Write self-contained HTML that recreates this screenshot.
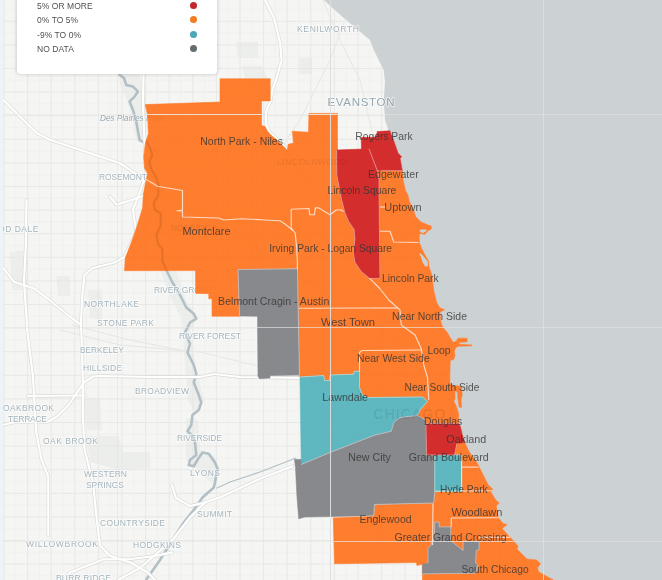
<!DOCTYPE html>
<html lang="en"><head><meta charset="utf-8"><title>Chicago change map</title>
<style>
html,body{margin:0;padding:0;background:#f5f5f3;}
body{width:662px;height:580px;overflow:hidden;position:relative;font-family:"Liberation Sans",Arial,sans-serif;}
#map{position:absolute;left:0;top:0;width:662px;height:580px;display:block}
.lbl{font-family:"Liberation Sans",Arial,sans-serif;font-size:11px;fill:#333;fill-opacity:.8}
.bl{font-family:"Liberation Sans",Arial,sans-serif;fill:#a4b4bc;stroke:#fff;stroke-opacity:.6;stroke-width:1.8px;paint-order:stroke;stroke-linejoin:round}
#legend{position:absolute;left:17px;top:-30px;width:200px;height:103.5px;background:#fff;border-radius:4px;box-shadow:0 0 4px rgba(0,0,0,.2)}
#legend ul{list-style:none;margin:0;padding:0;position:absolute;left:20px;top:28.7px;width:170px}
#legend li{position:absolute;left:0;height:14.4px;line-height:14.4px;font-size:8.5px;color:#505050;white-space:nowrap;letter-spacing:0.05px;width:170px}
#legend li i{position:absolute;left:153px;top:3.2px;width:7px;height:7px;border-radius:50%}
#strip{position:absolute;left:0;top:0;width:3px;height:580px;background:#edf3f7}
</style></head><body>
<svg id="map" width="662" height="580" viewBox="0 0 662 580">
<rect width="662" height="580" fill="#ccd1d4"/>

<polygon points="0,0 323.75,0 337.5,12.5 355,27.5 370,40 373.75,50 383.75,70 385,82.5 383.75,100 385,120 388.75,131.25 389.8,130.8 394,141.6 398.1,153.2 401.6,156.8 400.1,158.5 402.3,170.7 403.1,179.8 405.4,190.5 407.9,195 409,200.2 411.4,206 413.6,210.5 415.7,216.7 420.9,221.9 428.1,225 431.2,226 431.2,229.1 428.1,230.7 425,234.3 420.9,233.6 419.3,234.8 419.3,242 420.9,246.7 424.1,253.4 428.4,260.7 429,266.7 432,275.2 433.8,290.9 436.8,302.9 439.8,307.8 444.7,309.8 439.9,312.2 441.1,323.1 442.9,327.3 446.6,331.6 450.2,337.6 453.2,342.4 456.2,341.2 458,338.2 467.1,338.2 467.1,341.8 459,342.6 459,344.3 472,345 472,345.8 458.6,346.2 456.2,347.2 454.4,350.9 455,355.7 453.8,359.3 450.2,360.5 449.9,375 449.9,383 452.6,385.5 458.6,386.1 461.6,387.3 462.2,395.2 461,400 461.6,407.2 459.2,407.2 458,400 457.4,392.8 455,389.5 455,398.8 453.8,401.2 456.2,406 458.6,413.3 458.6,423.5 460.4,426.6 462.3,434.8 464.7,442.6 469.3,451.9 477,462.8 481.7,472 487.9,484.5 492.6,489 491,492.2 495.7,500 499.3,503 496.3,505.9 498.3,517.7 503.2,523.6 507.1,524.6 502.2,528.5 509.1,536.3 514,541.3 518,546.2 517,549.1 526.8,558.9 536.6,559.9 540.5,563.8 537.6,567.8 538.6,571.7 553.3,580 0,580" fill="#f5f5f3" />
<clipPath id="landclip"><polygon points="0,0 323.75,0 337.5,12.5 355,27.5 370,40 373.75,50 383.75,70 385,82.5 383.75,100 385,120 388.75,131.25 389.8,130.8 394,141.6 398.1,153.2 401.6,156.8 400.1,158.5 402.3,170.7 403.1,179.8 405.4,190.5 407.9,195 409,200.2 411.4,206 413.6,210.5 415.7,216.7 420.9,221.9 428.1,225 431.2,226 431.2,229.1 428.1,230.7 425,234.3 420.9,233.6 419.3,234.8 419.3,242 420.9,246.7 424.1,253.4 428.4,260.7 429,266.7 432,275.2 433.8,290.9 436.8,302.9 439.8,307.8 444.7,309.8 439.9,312.2 441.1,323.1 442.9,327.3 446.6,331.6 450.2,337.6 453.2,342.4 456.2,341.2 458,338.2 467.1,338.2 467.1,341.8 459,342.6 459,344.3 472,345 472,345.8 458.6,346.2 456.2,347.2 454.4,350.9 455,355.7 453.8,359.3 450.2,360.5 449.9,375 449.9,383 452.6,385.5 458.6,386.1 461.6,387.3 462.2,395.2 461,400 461.6,407.2 459.2,407.2 458,400 457.4,392.8 455,389.5 455,398.8 453.8,401.2 456.2,406 458.6,413.3 458.6,423.5 460.4,426.6 462.3,434.8 464.7,442.6 469.3,451.9 477,462.8 481.7,472 487.9,484.5 492.6,489 491,492.2 495.7,500 499.3,503 496.3,505.9 498.3,517.7 503.2,523.6 507.1,524.6 502.2,528.5 509.1,536.3 514,541.3 518,546.2 517,549.1 526.8,558.9 536.6,559.9 540.5,563.8 537.6,567.8 538.6,571.7 553.3,580 0,580"/></clipPath>
<g clip-path="url(#landclip)">
<g id="base" fill="none" stroke-linecap="round" stroke-linejoin="round">
<g fill="#eceeec" stroke="none">
<polygon points="118,74 140,74 143,100 141,120 145,142 137,142 132,118 127,100 121,88"/>
<polygon points="160,270 176,270 186,300 198,318 190,330 196,368 204,400 196,414 188,400 184,350 182,320 170,296"/>
<polygon points="186,418 198,420 200,450 214,456 220,470 216,486 208,480 196,468 186,460"/>
<polygon points="84,398 100,398 102,430 86,430"/>
<polygon points="86,436 118,436 124,452 150,452 150,468 120,470 90,462"/>
<polygon points="10,252 26,250 28,290 12,290"/>
<polygon points="56,276 70,276 70,296 58,296"/>
<polygon points="88,290 102,290 102,320 90,318"/>
<polygon points="236,42 258,42 258,58 238,58"/>
<polygon points="298,58 312,58 312,74 298,74"/>
<polygon points="242,66 262,66 268,80 246,84"/>
</g>
<path d="M15.8,0V580M39.4,0V580M63.0,0V580M86.6,0V580M110.2,0V580M133.8,0V580M157.4,0V580M181.0,0V580M204.6,0V580M228.2,0V580M251.8,0V580M275.4,0V580M299.0,0V580M322.6,0V580M346.2,0V580M369.8,0V580M393.4,0V580M417.0,0V580M440.6,0V580M464.2,0V580M487.8,0V580M511.4,0V580M535.0,0V580M558.6,0V580M3,9.5H560M3,33.1H560M3,56.7H560M3,80.3H560M3,103.9H560M3,127.5H560M3,151.1H560M3,174.7H560M3,198.3H560M3,221.9H560M3,245.5H560M3,269.1H560M3,292.7H560M3,316.3H560M3,339.9H560M3,363.5H560M3,387.1H560M3,410.7H560M3,434.3H560M3,457.9H560M3,481.5H560M3,505.1H560M3,528.7H560M3,552.3H560M3,575.9H560" stroke="#efefed" stroke-width="0.7"/>
<path d="M4.0,0V580M27.6,0V580M51.2,0V580M74.8,0V580M98.4,0V580M122.0,0V580M145.6,0V580M169.2,0V580M192.8,0V580M216.4,0V580M240.0,0V580M263.6,0V580M287.2,0V580M310.8,0V580M334.4,0V580M358.0,0V580M381.6,0V580M405.2,0V580M428.8,0V580M452.4,0V580M476.0,0V580M499.6,0V580M523.2,0V580M546.8,0V580M3,21.3H560M3,44.9H560M3,68.5H560M3,92.1H560M3,115.7H560M3,139.3H560M3,162.9H560M3,186.5H560M3,210.1H560M3,233.7H560M3,257.3H560M3,280.9H560M3,304.5H560M3,328.1H560M3,351.7H560M3,375.3H560M3,398.9H560M3,422.5H560M3,446.1H560M3,469.7H560M3,493.3H560M3,516.9H560M3,540.5H560M3,564.1H560" stroke="#e7e7e5" stroke-width="0.9"/>
<polyline points="146,183 200,215 260,250 330,295 400,340 440,352" stroke="#e6e6e4" stroke-width="1"/>
<polyline points="262,125 300,170 330,210 380,280" stroke="#e6e6e4" stroke-width="1"/>
<polyline points="60,330 120,345 200,352 300,376" stroke="#e6e6e4" stroke-width="1"/>
<polyline points="220,497 300,463 420,410" stroke="#e6e6e4" stroke-width="1"/>
<polyline points="323,0 340,40 360,80 372,131" stroke="#e6e6e4" stroke-width="1"/>
<polyline points="280,150 300,120 330,60 345,20" stroke="#e6e6e4" stroke-width="1"/>
<polyline points="72,325 130,340 180,350" stroke="#e6e6e4" stroke-width="1"/>
<polyline points="119.6,75 124,78 126.3,85 133,86.6 138,91.6 134.6,96.6 129.6,101.5 133,110 136.3,121.5 138,131.5 139.6,139.8 144.6,143 146.8,141.6 150.7,149.3 152.2,155.5 149.2,161.7 151.5,169.5 155.4,175.7 158.5,185.3 158.1,195.7 153.8,202.6 154.7,209.5 160.7,213.8 160.7,225 156.4,235.3 158.1,244 162.4,249.1 162.4,261.2 166.7,270.7 172.5,282.5 180,295 186.25,307.5 193.75,313.75 196.25,318.75 190,322.5 185,332.5 190,343.75 187.5,352.5 193.75,365 196.25,373.75 193.75,382.5 198.75,395 201.25,402.5 198.75,410 192.5,415 191.25,425 187.5,431.25 193,436 195,442.5 196.25,455 190,460 188.75,465 193.75,466.25 198,459 202.5,452.5 208.75,453.75 215,462.5 217.5,468.75 216,476 215,482.5 213.75,487.5 202.5,497.5 193.75,510 183.75,522.5 172.5,540 160,560 146,580" stroke="#b2c0c6" stroke-width="2.6"/>
<polyline points="217,488 230,482 260,472 296,458" stroke="#b2c0c6" stroke-width="1.2"/>
<polyline points="3.3,99.9 19.9,116.5 36.6,133.1 49.8,139.8 99.7,156.4 119.6,163 139.6,176.3 146.2,183 160,188" stroke="#d9d9d7" stroke-width="3.4"/>
<polyline points="143.6,60 143.6,75 142.9,103.2 144.6,143 146.2,173 139.6,193 133,209.5 136.3,232.8 131,243.8 124,257.6 113.8,262.8 93,268 84.5,274.8 82,299 81,323 82,350.7 82.8,380 82.8,414.5 84.5,449 93.1,483.4 96.6,517.9 100,545.5 110.3,555.9 131,562.8 148.3,573 155,580" stroke="#d9d9d7" stroke-width="3.4"/>
<polyline points="109.7,196.3 116.3,204.6 133,199.6 143,196" stroke="#d9d9d7" stroke-width="3.4"/>
<polyline points="27.6,396 84.5,395.5" stroke="#d9d9d7" stroke-width="3.4"/>
<polyline points="2.6,425 17,421.7 48.3,421.7 57,416.5 69,404.5 76,394 84.5,382 93,376.5 100,376 150,377 200,377 214,374 240,377 300,378" stroke="#d9d9d7" stroke-width="3.4"/>
<polyline points="34.5,402.4 36.2,431.7 41.4,459.3 48.3,476.6 48.3,535" stroke="#d9d9d7" stroke-width="3.4"/>
<polyline points="3.4,268 13.8,281.7 34.5,288.6 48.3,299 69,316 81,324.8" stroke="#d9d9d7" stroke-width="3.4"/>
<polyline points="26.5,200 25.9,243.8 24,281.7 27.6,333.4 32.8,374.8 34.5,402.4" stroke="#d9d9d7" stroke-width="3.4"/>
<polyline points="69,573 103.4,559.3 131,559 155,556 172.4,552.4" stroke="#d9d9d7" stroke-width="3.4"/>
<polyline points="118,580 140,568 172.5,540 190,517.5 205,502.5 222.5,496.25 260,478.75 292.5,466.25" stroke="#d9d9d7" stroke-width="3.4"/>
<polyline points="172,485 176,498 190,506 205,502.5" stroke="#d9d9d7" stroke-width="3.4"/>
<polyline points="265,0 274,18 280,42.3 281.6,60.4 276,80 272.3,90 270.5,102 266.9,109.3 265.7,116.5 266.3,125 270.5,133.4 277.8,139.5 285,146.7" stroke="#d9d9d7" stroke-width="3.4"/>
<polyline points="3.3,99.9 19.9,116.5 36.6,133.1 49.8,139.8 99.7,156.4 119.6,163 139.6,176.3 146.2,183 160,188" stroke="#ffffff" stroke-width="2.2"/>
<polyline points="143.6,60 143.6,75 142.9,103.2 144.6,143 146.2,173 139.6,193 133,209.5 136.3,232.8 131,243.8 124,257.6 113.8,262.8 93,268 84.5,274.8 82,299 81,323 82,350.7 82.8,380 82.8,414.5 84.5,449 93.1,483.4 96.6,517.9 100,545.5 110.3,555.9 131,562.8 148.3,573 155,580" stroke="#ffffff" stroke-width="2.2"/>
<polyline points="109.7,196.3 116.3,204.6 133,199.6 143,196" stroke="#ffffff" stroke-width="2.2"/>
<polyline points="27.6,396 84.5,395.5" stroke="#ffffff" stroke-width="2.2"/>
<polyline points="2.6,425 17,421.7 48.3,421.7 57,416.5 69,404.5 76,394 84.5,382 93,376.5 100,376 150,377 200,377 214,374 240,377 300,378" stroke="#ffffff" stroke-width="2.2"/>
<polyline points="34.5,402.4 36.2,431.7 41.4,459.3 48.3,476.6 48.3,535" stroke="#ffffff" stroke-width="2.2"/>
<polyline points="3.4,268 13.8,281.7 34.5,288.6 48.3,299 69,316 81,324.8" stroke="#ffffff" stroke-width="2.2"/>
<polyline points="26.5,200 25.9,243.8 24,281.7 27.6,333.4 32.8,374.8 34.5,402.4" stroke="#ffffff" stroke-width="2.2"/>
<polyline points="69,573 103.4,559.3 131,559 155,556 172.4,552.4" stroke="#ffffff" stroke-width="2.2"/>
<polyline points="118,580 140,568 172.5,540 190,517.5 205,502.5 222.5,496.25 260,478.75 292.5,466.25" stroke="#ffffff" stroke-width="2.2"/>
<polyline points="172,485 176,498 190,506 205,502.5" stroke="#ffffff" stroke-width="2.2"/>
<polyline points="265,0 274,18 280,42.3 281.6,60.4 276,80 272.3,90 270.5,102 266.9,109.3 265.7,116.5 266.3,125 270.5,133.4 277.8,139.5 285,146.7" stroke="#ffffff" stroke-width="2.2"/>
</g>
</g>
<g id="baselabels">
<text class="bl" x="297" y="31.5" font-size="8.5" textLength="62" lengthAdjust="spacing">KENILWORTH</text>
<text class="bl" x="327.5" y="105.5" font-size="11.5" textLength="67" lengthAdjust="spacing" style="fill:#93a5ae">EVANSTON</text>
<text class="bl" x="99" y="179.5" font-size="8.5" textLength="48" lengthAdjust="spacing">ROSEMONT</text>
<text class="bl" x="-17.6" y="231.6" font-size="8.5" textLength="56" lengthAdjust="spacing">WOOD DALE</text>
<text class="bl" x="154" y="292.5" font-size="8.5" textLength="58" lengthAdjust="spacing">RIVER GROVE</text>
<text class="bl" x="84" y="306.5" font-size="8.5" textLength="55" lengthAdjust="spacing">NORTHLAKE</text>
<text class="bl" x="97" y="325.5" font-size="8.5" textLength="57" lengthAdjust="spacing">STONE PARK</text>
<text class="bl" x="179" y="338.5" font-size="8.5" textLength="62" lengthAdjust="spacing">RIVER FOREST</text>
<text class="bl" x="80" y="353" font-size="8.5" textLength="44" lengthAdjust="spacing">BERKELEY</text>
<text class="bl" x="83" y="371" font-size="8.5" textLength="39" lengthAdjust="spacing">HILLSIDE</text>
<text class="bl" x="135" y="393.5" font-size="8.5" textLength="54" lengthAdjust="spacing">BROADVIEW</text>
<text class="bl" x="3" y="411" font-size="8.5" textLength="51" lengthAdjust="spacing">OAKBROOK</text>
<text class="bl" x="8" y="422" font-size="8.5" textLength="39" lengthAdjust="spacing">TERRACE</text>
<text class="bl" x="177" y="440.5" font-size="8.5" textLength="45" lengthAdjust="spacing">RIVERSIDE</text>
<text class="bl" x="43" y="444" font-size="8.5" textLength="55" lengthAdjust="spacing">OAK BROOK</text>
<text class="bl" x="84" y="476.5" font-size="8.5" textLength="43" lengthAdjust="spacing">WESTERN</text>
<text class="bl" x="86" y="487.5" font-size="8.5" textLength="38" lengthAdjust="spacing">SPRINGS</text>
<text class="bl" x="190" y="476" font-size="8.5" textLength="30" lengthAdjust="spacing">LYONS</text>
<text class="bl" x="197" y="517" font-size="8.5" textLength="35" lengthAdjust="spacing">SUMMIT</text>
<text class="bl" x="100" y="525.5" font-size="8.5" textLength="65" lengthAdjust="spacing">COUNTRYSIDE</text>
<text class="bl" x="26" y="547" font-size="8.5" textLength="72" lengthAdjust="spacing">WILLOWBROOK</text>
<text class="bl" x="133" y="548" font-size="8.5" textLength="48" lengthAdjust="spacing">HODGKINS</text>
<text class="bl" x="56" y="580.5" font-size="8.5" textLength="55" lengthAdjust="spacing">BURR RIDGE</text>
<text class="bl" x="100" y="120.5" font-size="9.5" font-style="italic" textLength="65" lengthAdjust="spacingAndGlyphs" style="fill:#93a6b0;stroke-width:1px">Des Plaines River</text>
</g>
<g id="choro" stroke-linejoin="round" opacity="0.9">
<polygon points="145.3,104.6 220,102 220,78.75 270.2,78.75 270.2,100.9 261.5,100.9 261.5,125.6 265.1,126.5 266.5,130 270.5,134.7 277.8,140.7 285,147.9 287.3,150.3 288.2,144.3 293.4,143.1 292.4,131.2 308.5,132.2 308.9,113.4 337.5,113.4 337.5,150 336.6,150 336.8,175 341.6,199.8 344.8,212.4 348.7,221.7 354.1,229.5 354.9,238.8 353.3,252.8 354.9,262.1 361.1,271.4 369.6,278.4 380,278.4 379.3,220 379,179.8 377.3,170.7 402.3,170.7 403.1,179.8 405.4,190.5 407.9,195 409,200.2 411.4,206 413.6,210.5 415.7,216.7 420.9,221.9 428.1,225 431.2,226 431.2,229.1 428.1,230.7 425,234.3 420.9,233.6 419.3,234.8 419.3,242 420.9,246.7 424.1,253.4 428.4,260.7 429,266.7 432,275.2 433.8,290.9 436.8,302.9 439.8,307.8 444.7,309.8 439.9,312.2 441.1,323.1 442.9,327.3 446.6,331.6 450.2,337.6 453.2,342.4 456.2,341.2 458,338.2 467.1,338.2 467.1,341.8 459,342.6 459,344.3 472,345 472,345.8 458.6,346.2 456.2,347.2 454.4,350.9 455,355.7 453.8,359.3 450.2,360.5 449.9,375 449.9,383 452.6,385.5 458.6,386.1 461.6,387.3 462.2,395.2 461,400 461.6,407.2 459.2,407.2 458,400 457.4,392.8 455,389.5 455,398.8 453.8,401.2 456.2,406 458.6,413.3 458.6,423.5 425.9,423.5 425.9,420 417.5,415.5 420,410 427.5,401.25 422.5,397 367.5,397.5 362.5,395 359.5,387.5 359.5,371.25 354.25,371.25 353.75,374.25 330,375 329.5,380.5 324.5,380.5 323.75,375.5 300,377 299.5,375 298,300 297.5,268.75 238,269.5 239.5,316.25 212,316.25 212,298.75 208.75,298.75 208.75,293.75 195.8,293.4 195.5,270.6 124.5,270.7 125.3,257.8 131.4,242.2 137.4,225 142.6,207.8 143.4,194 146.2,179.5 147.6,174.1 144.5,167.9 143.7,157.1 145.3,143.1 148.4,133.8 147.6,115.2" fill="#ff7119" stroke="#ff7119" stroke-width="0.6"/>
<polygon points="464.7,442.6 469.3,451.9 477,462.8 481.7,472 487.9,484.5 492.6,489 491,492.2 495.7,500 499.3,503 496.3,505.9 498.3,517.7 503.2,523.6 507.1,524.6 502.2,528.5 509.1,536.3 514,541.3 518,546.2 517,549.1 526.8,558.9 536.6,559.9 540.5,563.8 537.6,567.8 538.6,571.7 553.3,580 422.4,580 422.4,564.2 417,565.5 416.25,562.5 334.5,563.75 333.25,517.5 373.75,515.75 374.5,504.5 433.75,503 434.8,491.5 461.6,491.5 461.6,455 454.6,455 456.9,443.4" fill="#ff7119" stroke="#ff7119" stroke-width="0.6"/>
<polygon points="238,269.5 297.5,268.75 298,300 299.5,375 270,375.5 270,378 259.5,378.75 258,376.25 257.5,316.25 239.5,316" fill="#7d7e83" stroke="#7d7e83" stroke-width="0.6"/>
<polygon points="300,377 323.75,375.5 324.5,380.5 329.5,380.5 330,375 353.75,374.25 354.25,371.25 359.5,371.25 359.5,387.5 362.5,395 367.5,397.5 422.5,397 427.5,401.25 420,410 417.5,415.5 400,417.5 393.75,422.5 391.25,431.25 375,435 330,452.5 301.25,464.5" fill="#4fb1bb" stroke="#4fb1bb" stroke-width="0.6"/>
<polygon points="294.5,459.5 301.25,459.5 301.25,464.5 330,452.5 375,435 391.25,431.25 393.75,422.5 400,417.5 417.5,415.5 425.9,420 425.9,424 426.6,455 434.8,455 434.8,491.5 433.75,503 374.5,504.5 373.75,515.75 305,517 298.75,518.75 297,497.5 295.5,467.5" fill="#7d7e83" stroke="#7d7e83" stroke-width="0.6"/>
<polygon points="434.8,455 461.6,455 461.6,491.5 434.8,491.5" fill="#4fb1bb" stroke="#4fb1bb" stroke-width="0.6"/>
<polygon points="434.85,522.1 439,522.1 439.3,526.9 450.7,526.9 451.1,541 463.1,550.4 463.1,541.4 479,541.4 479,549.7 476.3,550.4 475.6,562.8 477.6,564.9 475.6,573.2 422.4,573.9 422.4,564.2 428,563.5 428,548.3 430.7,545.6 432.1,541.4 434.2,540" fill="#7d7e83" stroke="#7d7e83" stroke-width="0.6"/>
<polygon points="336.6,150 369,148.8 377.3,170.7 379,179.8 379.3,220 380,278.4 369.6,278.4 361.1,271.4 354.9,262.1 353.3,252.8 354.9,238.8 354.1,229.5 348.7,221.7 344.8,212.4 341.6,199.8 336.8,175" fill="#d01918" stroke="#d01918" stroke-width="0.6"/>
<polygon points="361.2,137.5 376,137.2 377.3,131.6 389.8,130.8 394,141.6 398.1,153.2 401.6,156.8 400.1,158.5 402.3,170.7 377.3,170.7 369,148.8 361.5,149" fill="#d01918" stroke="#d01918" stroke-width="0.6"/>
<polygon points="425.9,423.5 458.6,423.5 460.4,426.6 462.3,434.8 464.7,442.6 456.9,443.4 454.6,455 426.6,455" fill="#d01918" stroke="#d01918" stroke-width="0.6"/>
<g fill="none" stroke="#fff" stroke-opacity=".72" stroke-width="1.15">
<polyline points="146.25,179.5 157.5,186.25 182.5,190.5 182.5,210 177,210.75 182.5,211 182.5,217 218.75,218 223.75,220 241.25,218.75 265,220 280,220.75 285,224 292.8,230.3 295.1,232.6 296.6,246.6 297.4,262 297.4,268.75"/>
<polyline points="292.8,230.3 291.2,228 291.2,209.3 309,208.5 309.8,214.7 314.5,214.7 315.3,207.8 318.4,207.8 330,214.7 336.2,210 341.7,210 343.5,211.6"/>
<polyline points="380,207 386,207"/>
<polyline points="380,231.25 390,231.25 393.75,242 418.75,242.5"/>
<polyline points="369.6,278.4 380,288.75 388.75,300 400,310 401.25,325 415,335 421.25,348.75 423.75,365 427.5,377.5 428.75,400"/>
<polyline points="370,308 397.5,308"/>
<polyline points="298.75,308.25 370,308"/>
<polyline points="359.5,371.25 359.5,352.5 362,350.5 421.5,350"/>
<polyline points="433,503.75 432.5,545"/>
<polyline points="461.6,467.1 478.6,467.1"/>
<polyline points="435.2,491.2 492,490.7"/>
<polyline points="451.25,518 498.3,517.7"/>
<polyline points="451.25,518 451.25,527"/>
<polyline points="479,537.3 510,537.3"/>
<polyline points="461.6,455 461.6,491"/>
</g>
<g fill="none" stroke="#fff" stroke-opacity=".4" stroke-width="1">
<polyline points="369,148.8 377.3,170.7"/>
<polyline points="301.25,464.5 330,452.5 375,435 391.25,431.25 393.75,422.5 400,417.5 417.5,415.5"/>
<polyline points="434.8,455 434.8,491.5"/>
<polyline points="336.6,150 336.8,175 341.6,199.8 344.8,212.4 348.7,221.7 354.1,229.5 354.9,238.8 353.3,252.8 354.9,262.1 361.1,271.4 369.6,278.4 380,278.4 379.3,220 379,179.8 377.3,170.7 402.3,170.7"/>
<polyline points="425.9,423.5 458.6,423.5"/>
<polyline points="425.9,423.5 426.6,455 461.6,455"/>
<polyline points="456.9,443.4 454.6,455"/>
<polyline points="238,269.5 297.5,268.75 298,300 299.5,375"/>
<polyline points="239.5,316 238,269.5"/>
<polyline points="300,377 323.75,375.5 324.5,380.5 329.5,380.5 330,375 353.75,374.25 354.25,371.25 359.5,371.25 359.5,387.5 362.5,395 367.5,397.5 422.5,397 427.5,401.25 420,410 417.5,415.5 425.9,420"/>
<polyline points="333.25,517.5 373.75,515.75 374.5,504.5 433.75,503"/>
<polyline points="434.8,491.5 433.75,503"/>
<polyline points="434.85,522.1 439,522.1 439.3,526.9 450.7,526.9 451.1,541 463.1,550.4 463.1,541.4 479,541.4 479,549.7 476.3,550.4 475.6,562.8 477.6,564.9 475.6,573.2 422.4,573.9"/>
<polyline points="428,563.5 428,548.3 430.7,545.6 432.1,541.4 434.2,540 434.85,522.1"/>
</g>
</g>
<clipPath id="choroclip">
<polygon points="145.3,104.6 220,102 220,78.75 270.2,78.75 270.2,100.9 261.5,100.9 261.5,125.6 265.1,126.5 266.5,130 270.5,134.7 277.8,140.7 285,147.9 287.3,150.3 288.2,144.3 293.4,143.1 292.4,131.2 308.5,132.2 308.9,113.4 337.5,113.4 337.5,150 336.6,150 336.8,175 341.6,199.8 344.8,212.4 348.7,221.7 354.1,229.5 354.9,238.8 353.3,252.8 354.9,262.1 361.1,271.4 369.6,278.4 380,278.4 379.3,220 379,179.8 377.3,170.7 402.3,170.7 403.1,179.8 405.4,190.5 407.9,195 409,200.2 411.4,206 413.6,210.5 415.7,216.7 420.9,221.9 428.1,225 431.2,226 431.2,229.1 428.1,230.7 425,234.3 420.9,233.6 419.3,234.8 419.3,242 420.9,246.7 424.1,253.4 428.4,260.7 429,266.7 432,275.2 433.8,290.9 436.8,302.9 439.8,307.8 444.7,309.8 439.9,312.2 441.1,323.1 442.9,327.3 446.6,331.6 450.2,337.6 453.2,342.4 456.2,341.2 458,338.2 467.1,338.2 467.1,341.8 459,342.6 459,344.3 472,345 472,345.8 458.6,346.2 456.2,347.2 454.4,350.9 455,355.7 453.8,359.3 450.2,360.5 449.9,375 449.9,383 452.6,385.5 458.6,386.1 461.6,387.3 462.2,395.2 461,400 461.6,407.2 459.2,407.2 458,400 457.4,392.8 455,389.5 455,398.8 453.8,401.2 456.2,406 458.6,413.3 458.6,423.5 425.9,423.5 425.9,420 417.5,415.5 420,410 427.5,401.25 422.5,397 367.5,397.5 362.5,395 359.5,387.5 359.5,371.25 354.25,371.25 353.75,374.25 330,375 329.5,380.5 324.5,380.5 323.75,375.5 300,377 299.5,375 298,300 297.5,268.75 238,269.5 239.5,316.25 212,316.25 212,298.75 208.75,298.75 208.75,293.75 195.8,293.4 195.5,270.6 124.5,270.7 125.3,257.8 131.4,242.2 137.4,225 142.6,207.8 143.4,194 146.2,179.5 147.6,174.1 144.5,167.9 143.7,157.1 145.3,143.1 148.4,133.8 147.6,115.2"/>
<polygon points="464.7,442.6 469.3,451.9 477,462.8 481.7,472 487.9,484.5 492.6,489 491,492.2 495.7,500 499.3,503 496.3,505.9 498.3,517.7 503.2,523.6 507.1,524.6 502.2,528.5 509.1,536.3 514,541.3 518,546.2 517,549.1 526.8,558.9 536.6,559.9 540.5,563.8 537.6,567.8 538.6,571.7 553.3,580 422.4,580 422.4,564.2 417,565.5 416.25,562.5 334.5,563.75 333.25,517.5 373.75,515.75 374.5,504.5 433.75,503 434.8,491.5 461.6,491.5 461.6,455 454.6,455 456.9,443.4"/>
<polygon points="238,269.5 297.5,268.75 298,300 299.5,375 270,375.5 270,378 259.5,378.75 258,376.25 257.5,316.25 239.5,316"/>
<polygon points="300,377 323.75,375.5 324.5,380.5 329.5,380.5 330,375 353.75,374.25 354.25,371.25 359.5,371.25 359.5,387.5 362.5,395 367.5,397.5 422.5,397 427.5,401.25 420,410 417.5,415.5 400,417.5 393.75,422.5 391.25,431.25 375,435 330,452.5 301.25,464.5"/>
<polygon points="294.5,459.5 301.25,459.5 301.25,464.5 330,452.5 375,435 391.25,431.25 393.75,422.5 400,417.5 417.5,415.5 425.9,420 425.9,424 426.6,455 434.8,455 434.8,491.5 433.75,503 374.5,504.5 373.75,515.75 305,517 298.75,518.75 297,497.5 295.5,467.5"/>
<polygon points="434.8,455 461.6,455 461.6,491.5 434.8,491.5"/>
<polygon points="434.85,522.1 439,522.1 439.3,526.9 450.7,526.9 451.1,541 463.1,550.4 463.1,541.4 479,541.4 479,549.7 476.3,550.4 475.6,562.8 477.6,564.9 475.6,573.2 422.4,573.9 422.4,564.2 428,563.5 428,548.3 430.7,545.6 432.1,541.4 434.2,540"/>
<polygon points="336.6,150 369,148.8 377.3,170.7 379,179.8 379.3,220 380,278.4 369.6,278.4 361.1,271.4 354.9,262.1 353.3,252.8 354.9,238.8 354.1,229.5 348.7,221.7 344.8,212.4 341.6,199.8 336.8,175"/>
<polygon points="361.2,137.5 376,137.2 377.3,131.6 389.8,130.8 394,141.6 398.1,153.2 401.6,156.8 400.1,158.5 402.3,170.7 377.3,170.7 369,148.8 361.5,149"/>
<polygon points="425.9,423.5 458.6,423.5 460.4,426.6 462.3,434.8 464.7,442.6 456.9,443.4 454.6,455 426.6,455"/>
</clipPath>
<polyline clip-path="url(#choroclip)" fill="none" stroke="#000" stroke-opacity=".06" stroke-width="2" stroke-linejoin="round" points="146.8,141.6 150.7,149.3 152.2,155.5 149.2,161.7 151.5,169.5 155.4,175.7 158.5,185.3 158.1,195.7 153.8,202.6 154.7,209.5 160.7,213.8 160.7,225 156.4,235.3 158.1,244 162.4,249.1 162.4,261.2 166.7,270.7"/>
<g id="under" fill="#000" fill-opacity="0.09" font-family="Liberation Sans, Arial, sans-serif">
<text x="373.4" y="418.7" font-size="14" textLength="72" lengthAdjust="spacing">CHICAGO</text>
<text x="277" y="164.5" font-size="8.5" textLength="70" lengthAdjust="spacing">LINCOLNWOOD</text>
<text x="171" y="231" font-size="8.5" textLength="46" lengthAdjust="spacing">NORRIDGE</text>
</g>
<g id="harbors" fill="#cbd2d3">
<polygon points="419.4,230.6 421,229.6 427,229.4 426.3,231 423.5,232.9 420.6,232.3"/>
<polygon points="418.9,253 421.3,254 424.3,257.2 427.8,261.5 427.9,266 425.4,266.7 422.6,262.5 421.2,257.5"/>
</g>

<g id="labels">
<text class="lbl" x="200.3" y="144.9" textLength="82.6" lengthAdjust="spacingAndGlyphs">North Park - Niles</text>
<text class="lbl" x="355.2" y="139.6" textLength="57.4" lengthAdjust="spacingAndGlyphs">Rogers Park</text>
<text class="lbl" x="368" y="177.8" textLength="50.7" lengthAdjust="spacingAndGlyphs">Edgewater</text>
<text class="lbl" x="327.5" y="194" textLength="68.8" lengthAdjust="spacingAndGlyphs">Lincoln Square</text>
<text class="lbl" x="384.3" y="211.4" textLength="37.2" lengthAdjust="spacingAndGlyphs">Uptown</text>
<text class="lbl" x="182.5" y="234.9" textLength="48" lengthAdjust="spacingAndGlyphs">Montclare</text>
<text class="lbl" x="269.2" y="252.4" textLength="122.9" lengthAdjust="spacingAndGlyphs">Irving Park - Logan Square</text>
<text class="lbl" x="382.1" y="281.7" textLength="56.5" lengthAdjust="spacingAndGlyphs">Lincoln Park</text>
<text class="lbl" x="218.1" y="305.2" textLength="111.2" lengthAdjust="spacingAndGlyphs">Belmont Cragin - Austin</text>
<text class="lbl" x="320.9" y="325.6" textLength="54.2" lengthAdjust="spacingAndGlyphs">West Town</text>
<text class="lbl" x="392.1" y="319.7" textLength="74.9" lengthAdjust="spacingAndGlyphs">Near North Side</text>
<text class="lbl" x="356.9" y="361.5" textLength="72.8" lengthAdjust="spacingAndGlyphs">Near West Side</text>
<text class="lbl" x="427.4" y="354.2" textLength="23.2" lengthAdjust="spacingAndGlyphs">Loop</text>
<text class="lbl" x="404.6" y="391" textLength="74.7" lengthAdjust="spacingAndGlyphs">Near South Side</text>
<text class="lbl" x="322.3" y="400.6" textLength="45.7" lengthAdjust="spacingAndGlyphs">Lawndale</text>
<text class="lbl" x="424.1" y="424.7" textLength="38.2" lengthAdjust="spacingAndGlyphs">Douglas</text>
<text class="lbl" x="446.3" y="443.4" textLength="40" lengthAdjust="spacingAndGlyphs">Oakland</text>
<text class="lbl" x="348.2" y="460.9" textLength="42.6" lengthAdjust="spacingAndGlyphs">New City</text>
<text class="lbl" x="408.7" y="460.7" textLength="79.9" lengthAdjust="spacingAndGlyphs">Grand Boulevard</text>
<text class="lbl" x="440" y="492.6" textLength="47.7" lengthAdjust="spacingAndGlyphs">Hyde Park</text>
<text class="lbl" x="451.4" y="515.9" textLength="50.9" lengthAdjust="spacingAndGlyphs">Woodlawn</text>
<text class="lbl" x="359.5" y="522.5" textLength="52.2" lengthAdjust="spacingAndGlyphs">Englewood</text>
<text class="lbl" x="394.6" y="540.9" textLength="112" lengthAdjust="spacingAndGlyphs">Greater Grand Crossing</text>
<text class="lbl" x="461.4" y="573.3" textLength="67.2" lengthAdjust="spacingAndGlyphs">South Chicago</text>
</g>
<g clip-path="url(#choroclip)" stroke="#f4f0ec" stroke-width="1" shape-rendering="crispEdges">
<line x1="3" y1="114.5" x2="662" y2="114.5" stroke-opacity="0.8"/>
<line x1="3" y1="327.5" x2="662" y2="327.5" stroke-opacity="0.3"/>
<line x1="3" y1="541.5" x2="662" y2="541.5" stroke-opacity="0.45"/>
</g>
<g id="seams" stroke="#dddddd" stroke-width="1" shape-rendering="crispEdges">
<line x1="117.5" y1="0" x2="117.5" y2="580" stroke-opacity="0.45"/>
<line x1="330.5" y1="0" x2="330.5" y2="580" stroke-opacity="0.95"/>
<line x1="543.5" y1="0" x2="543.5" y2="580" stroke-opacity="0.95"/>
<line x1="3" y1="114.5" x2="662" y2="114.5" stroke="#e6e6e6" stroke-opacity="0.5"/>
<line x1="3" y1="327.5" x2="662" y2="327.5" stroke="#e6e6e6" stroke-opacity="0.5"/>
<line x1="3" y1="541.5" x2="662" y2="541.5" stroke="#e6e6e6" stroke-opacity="0.5"/>
</g>
</svg>
<div id="strip"></div>
<div id="legend"><ul>
<li style="top:0px">5% OR MORE<i style="background:#c1272d"></i></li>
<li style="top:14.4px">0% TO 5%<i style="background:#f47b20"></i></li>
<li style="top:29.3px">-9% TO 0%<i style="background:#4ba6b8;top:2.7px"></i></li>
<li style="top:43.2px">NO DATA<i style="background:#656d71"></i></li>
</ul></div>
</body></html>
